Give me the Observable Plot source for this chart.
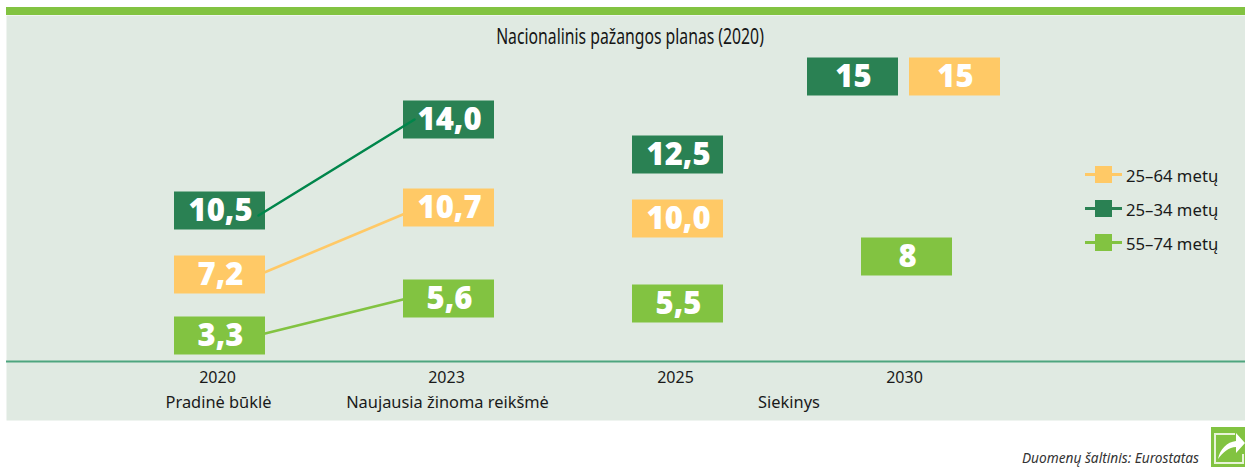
<!DOCTYPE html>
<html lang="lt">
<head>
<meta charset="utf-8">
<script src="https://cdn.jsdelivr.net/npm/d3@7"></script>
<script src="https://cdn.jsdelivr.net/npm/@observablehq/plot@0.6"></script>
<style>
  html, body { margin: 0; padding: 0; background: #fff; overflow: hidden; }
  #stage { position: relative; width: 1245px; height: 474px; overflow: hidden; font-family: "Noto Sans", sans-serif; }
  #stage svg.plot { position: absolute; left: 0; top: 0; }
  #band { position: absolute; left: 6px; right: 0; top: 7px; height: 8px; background: #82c341; }
  #title { position: absolute; left: 330px; width: 600px; top: 23px; text-align: center; font: 21px/26px "Noto Sans", sans-serif; color: #151515; transform: scaleX(0.75); transform-origin: 300px 0; }
  #legend { position: absolute; left: 1085px; top: 157px; }
  .row { position: relative; height: 34px; width: 150px; }
  .row i { position: absolute; left: 0; top: 16px; width: 37px; height: 2.5px; }
  .row b { position: absolute; left: 10px; top: 8.5px; width: 17px; height: 17px; }
  .row span { position: absolute; left: 41px; top: 7.5px; font-size: 16.7px; line-height: 22px; color: #1a1a1a; white-space: nowrap; }
  #source { position: absolute; right: 46px; top: 449px; font: italic 13.7px/18px "Noto Sans", sans-serif; color: #333; }
  #icon { position: absolute; left: 1211px; top: 427px; }
</style>
</head>
<body>
<div id="stage">
  <div id="band"></div>
  <div id="plot"></div>
  <div id="title"></div>
  <div id="legend"></div>
  <div id="source"></div>
  <svg id="icon" width="34" height="40" viewBox="0 0 34 40">
    <rect width="34" height="40" fill="#82c341"/>
    <path d="M3 6H24V8H5V35H31V27H33V37H3Z" fill="#e8f3d8"/>
    <path d="M7 32C9 22 16 15 25 14V6L34 16L25 26V20C18 20 12 25 7 32Z" fill="#fff"/>
  </svg>
</div>
<script>
const years = ["2020", "2023", "2025", "2030"];
const status = ["Pradinė būklė", "Naujausia žinoma reikšmė", "Siekinys"];
const statusYear = ["2020", "2023", "2025"];

const seriesNames = ["25–64 metų", "25–34 metų", "55–74 metų"];
const seriesColors = ["#ffc966", "#2a8153", "#82c341"];

const values2564 = [7.2, 10.7, 10.0, 15];
const values2534 = [10.5, 14.0, 12.5, 15];
const values5574 = [3.3, 5.6, 5.5, 8];

const titleText = "Nacionalinis pažangos planas (2020)";
const sourceText = "Duomenų šaltinis: Eurostatas";

const rows = [values2564, values2534, values5574].flatMap((vals, s) =>
  vals.map((value, i) => ({series: seriesNames[s], year: years[i], value}))
);
const label = d => d.year === "2030" ? String(d.value) : d.value.toFixed(1).replace(".", ",");

// The picture is schematic: box heights follow the order of the values, not a straight scale.
const yDomain = [0, 3.3, 5.5, 5.6, 7.2, 8, 10, 10.5, 10.7, 12.5, 14, 15];
const yLevels = [361, 335, 303, 298, 274, 256, 218, 210, 207, 154, 119, 76];
const schematic = d3.scaleLinear(yDomain, yLevels);

const box = {draw(ctx) { ctx.rect(-45.5, -19, 91, 38); }};

// Connector ends sit off the box centres in the picture: a curve that nudges each end.
const nudged = (from, to) => ctx => ({
  areaStart() {}, areaEnd() {},
  lineStart() { this.i = 0; },
  lineEnd() {},
  point(x, y) {
    if (this.i++ === 0) ctx.moveTo(x + from[0], y + from[1]);
    else ctx.lineTo(x + to[0], y + to[1]);
  }
});

const isConnector = d => d.year === "2020" || d.year === "2023";
const connector = (name, color, from, to) =>
  Plot.line(rows.filter(d => d.series === name && isConnector(d)), {
    x: "year", y: "value", stroke: color, strokeWidth: 2.6, curve: nudged(from, to)
  });

const isLeft = d => d.year === "2030" && d.value === 15 && d.series === seriesNames[1];
const isRight = d => d.year === "2030" && d.value === 15 && d.series === seriesNames[0];
const isMiddle = d => !isLeft(d) && !isRight(d);

const boxes = (filter, dx) => [
  Plot.dot(rows.filter(filter), {x: "year", y: "value", fill: "series", symbol: box, dx}),
  Plot.text(rows.filter(filter), {
    x: "year", y: "value", text: label, dx: dx + 1, fill: "white", stroke: null,
    fontSize: 31, fontWeight: 800, fontFamily: "Open Sans", dy: 1
  })
];

const axisText = {fontFamily: "Noto Sans", fill: "#1a1a1a", y: () => 0};

const chart = Plot.plot({
  width: 1245, height: 474,
  marginLeft: 6, marginRight: 0, marginTop: 15, marginBottom: 54,
  style: {background: "transparent", overflow: "visible"},
  x: {type: "point", domain: years, range: [218, 906.6], padding: 0, axis: null},
  y: {transform: schematic, domain: [420, 15], range: [420, 15], axis: null},
  color: {domain: seriesNames, range: seriesColors},
  marks: [
    Plot.frame({fill: "#e0eae2", stroke: null}),
    Plot.ruleY([0], {stroke: "#4ea57f", strokeWidth: 2}),
    connector(seriesNames[0], seriesColors[0], [40, 0], [-29, 0]),
    connector(seriesNames[2], seriesColors[2], [37.5, 0], [-41.5, 0]),
    ...boxes(isMiddle, 0),
    ...boxes(isLeft, -54),
    ...boxes(isRight, 48),
    connector(seriesNames[1], "#00864b", [39, 5], [-34, 0]),
    Plot.text(years, {
      ...axisText, x: d => d, text: d => d, dy: 16, dx: -2, fontSize: 16
    }),
    Plot.text(status.slice(0, 2), {
      ...axisText, x: (d, i) => statusYear[i], text: d => d, dy: 41, dx: -1, fontSize: 16.4
    }),
    Plot.text([status[2]], {
      ...axisText, x: () => statusYear[2], text: d => d, dy: 41, dx: 111.5, fontSize: 16.4
    })
  ]
});
document.getElementById("plot").append(chart);
document.getElementById("title").textContent = titleText;
document.getElementById("source").textContent = sourceText;
const legend = document.getElementById("legend");
seriesNames.forEach((name, i) => {
  const row = document.createElement("div");
  row.className = "row";
  row.innerHTML = `<i style="background:${seriesColors[i]}"></i><b style="background:${seriesColors[i]}"></b><span>${name}</span>`;
  legend.append(row);
});
</script>
</body>
</html>
